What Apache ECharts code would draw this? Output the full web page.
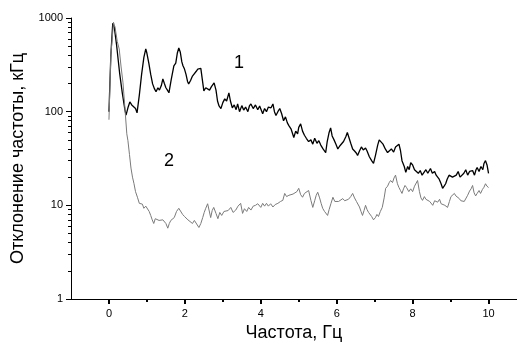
<!DOCTYPE html>
<html>
<head>
<meta charset="utf-8">
<script src="https://cdn.jsdelivr.net/npm/echarts@6/dist/echarts.min.js"></script>
<style>
  html, body {margin: 0; padding: 0; background: #fff;}
  #chart {width: 517px; height: 347px;}
</style>
</head>
<body>
<div id="chart"></div>
<script>
// curve 1 (black)
const blackX = [0.00, 0.05, 0.10, 0.14, 0.20, 0.28, 0.35, 0.42, 0.45, 0.50, 0.55, 0.60, 0.65, 0.70, 0.74, 0.80, 0.86, 0.92, 0.97, 1.00,
  1.05, 1.10, 1.15, 1.20, 1.24, 1.29, 1.33, 1.38, 1.42, 1.46, 1.50, 1.54, 1.58, 1.64, 1.71, 1.76, 1.80, 1.84, 1.88, 1.92,
  1.95, 1.99, 2.03, 2.07, 2.10, 2.15, 2.20, 2.24, 2.30, 2.34, 2.38, 2.42, 2.46, 2.50, 2.55, 2.60, 2.65, 2.70, 2.77, 2.82,
  2.86, 2.90, 2.95, 3.00, 3.05, 3.10, 3.16, 3.20, 3.25, 3.30, 3.35, 3.39, 3.44, 3.50, 3.55, 3.60, 3.66, 3.70, 3.74, 3.80,
  3.86, 3.92, 3.97, 4.05, 4.10, 4.15, 4.20, 4.27, 4.32, 4.36, 4.40, 4.45, 4.50, 4.55, 4.60, 4.65, 4.70, 4.74, 4.80, 4.87,
  4.92, 4.97, 5.00, 5.05, 5.10, 5.15, 5.20, 5.26, 5.32, 5.37, 5.42, 5.48, 5.53, 5.58, 5.64, 5.71, 5.75, 5.80, 5.84, 5.88,
  5.93, 5.98, 6.03, 6.08, 6.13, 6.18, 6.24, 6.28, 6.32, 6.37, 6.42, 6.47, 6.52, 6.55, 6.60, 6.65, 6.70, 6.76, 6.80, 6.86,
  6.92, 6.97, 7.02, 7.08, 7.12, 7.16, 7.22, 7.28, 7.34, 7.38, 7.44, 7.50, 7.55, 7.60, 7.64, 7.68, 7.72, 7.78, 7.82, 7.87,
  7.91, 7.95, 8.00, 8.05, 8.10, 8.15, 8.20, 8.25, 8.30, 8.35, 8.40, 8.47, 8.52, 8.58, 8.62, 8.66, 8.70, 8.75, 8.79, 8.83,
  8.87, 8.91, 8.96, 9.00, 9.05, 9.10, 9.15, 9.20, 9.25, 9.30, 9.35, 9.40, 9.45, 9.50, 9.55, 9.58, 9.63, 9.67, 9.70, 9.75,
  9.80, 9.85, 9.88, 9.92, 9.96, 10.00];
const blackY = [100, 400, 880, 800, 520, 260, 160, 105, 92, 110, 127, 118, 122, 108, 97, 150, 250, 380, 467, 420,
  330, 250, 198, 175, 163, 180, 170, 190, 224, 200, 180, 170, 159, 220, 309, 330, 420, 480, 430, 340,
  309, 285, 250, 210, 198, 215, 240, 230, 270, 285, 275, 290, 220, 167, 180, 176, 170, 185, 203, 170,
  130, 115, 108, 125, 137, 130, 159, 130, 110, 118, 105, 121, 100, 116, 104, 112, 100, 115, 121, 108,
  118, 105, 115, 95, 108, 100, 112, 110, 121, 100, 91, 100, 108, 95, 80, 88, 76, 71, 65, 53,
  62, 58, 68, 74, 62, 56, 52, 48, 50, 45, 52, 46, 49, 44, 40, 36.6, 48, 60, 67, 55,
  50, 45, 40, 43, 41, 48, 54, 60, 58, 46, 40, 38, 36, 34, 38, 42, 39, 41, 38, 33,
  30, 28, 34, 44, 50, 51.5, 45, 40, 36.6, 38, 40, 37, 42, 41, 45, 38.5, 30, 26, 22.5, 26,
  24, 28.6, 27, 24, 23, 22, 23.5, 21, 22, 24, 22, 24.7, 22, 23, 21, 21, 19, 17, 15.2, 16,
  17, 19, 21, 22, 20, 19.4, 21, 23, 20, 21, 22, 24, 21, 23, 22, 23.5, 21, 24, 25.4, 23,
  26, 24, 28, 30, 27, 22];

// curve 2 (gray)
const grayX = [0.00, 0.05, 0.12, 0.16, 0.22, 0.27, 0.32, 0.37, 0.42, 0.47, 0.50, 0.54, 0.58, 0.62, 0.66, 0.70, 0.75, 0.80, 0.84, 0.88,
  0.92, 0.97, 1.02, 1.06, 1.10, 1.14, 1.18, 1.22, 1.27, 1.32, 1.37, 1.42, 1.46, 1.50, 1.55, 1.59, 1.63, 1.68, 1.72, 1.78,
  1.84, 1.89, 1.94, 1.99, 2.03, 2.08, 2.13, 2.20, 2.25, 2.30, 2.37, 2.42, 2.47, 2.51, 2.55, 2.60, 2.63, 2.68, 2.72, 2.76,
  2.82, 2.87, 2.92, 2.97, 3.03, 3.08, 3.14, 3.21, 3.27, 3.34, 3.40, 3.47, 3.52, 3.57, 3.63, 3.68, 3.74, 3.80, 3.86, 3.92,
  3.95, 4.00, 4.05, 4.10, 4.15, 4.20, 4.26, 4.32, 4.38, 4.45, 4.52, 4.58, 4.63, 4.68, 4.74, 4.79, 4.85, 4.90, 4.95, 5.00,
  5.05, 5.10, 5.15, 5.20, 5.26, 5.32, 5.37, 5.42, 5.46, 5.50, 5.55, 5.59, 5.63, 5.68, 5.72, 5.76, 5.80, 5.85, 5.90, 5.95,
  6.00, 6.05, 6.10, 6.16, 6.21, 6.26, 6.31, 6.37, 6.42, 6.47, 6.52, 6.56, 6.60, 6.64, 6.68, 6.72, 6.76, 6.80, 6.84, 6.88,
  6.92, 6.97, 7.02, 7.06, 7.10, 7.15, 7.20, 7.25, 7.29, 7.34, 7.38, 7.42, 7.47, 7.51, 7.55, 7.60, 7.64, 7.68, 7.72, 7.76,
  7.80, 7.84, 7.90, 7.95, 8.00, 8.05, 8.09, 8.13, 8.18, 8.22, 8.26, 8.31, 8.35, 8.40, 8.45, 8.49, 8.53, 8.58, 8.62, 8.66,
  8.71, 8.75, 8.80, 8.85, 8.89, 8.92, 8.97, 9.01, 9.05, 9.10, 9.14, 9.18, 9.23, 9.27, 9.32, 9.36, 9.41, 9.45, 9.50, 9.54,
  9.58, 9.62, 9.66, 9.70, 9.75, 9.79, 9.84, 9.88, 9.92, 9.96, 10.00];
const grayY = [82, 400, 900, 800, 560, 467, 300, 203, 110, 58, 49, 35, 25, 20, 17, 14, 12.2, 10.5, 10, 10.3,
  9.3, 9.8, 10, 8.6, 7.8, 7.0, 6.4, 7.2, 7.4, 6.9, 7.2, 7.0, 6.9, 6.4, 5.7, 6.4, 6.9, 7.0, 7.4, 8.6,
  9.3, 8.9, 8.0, 7.6, 7.4, 7.0, 7.2, 6.4, 6.9, 6.6, 5.8, 6.4, 7.4, 8.4, 9.3, 10.4, 10.8, 7.4, 8.8, 9.5,
  8.2, 7.2, 8.4, 7.8, 8.6, 8.2, 8.8, 9.5, 8.4, 8.9, 9.8, 10.5, 8.2, 9.2, 8.6, 9.5, 8.9, 9.8, 10, 10.4,
  10.8, 9.5, 10.5, 9.8, 10.5, 9.8, 10.4, 9.6, 10.2, 10.5, 11.0, 11.3, 13.4, 12.4, 12.8, 12.2, 13.2, 12.8, 14.0, 15.2,
  13.0, 12.2, 13.4, 14.0, 14.4, 11.3, 9.5, 11.2, 12.8, 13.8, 12.0, 10.5, 9.3, 8.6, 8.2, 7.8, 9.0, 10.5, 12.2, 11.0,
  10.5, 11.0, 10.6, 11.8, 11.2, 10.8, 11.6, 12.4, 13.4, 12.0, 11.0, 11.2, 9.6, 8.6, 7.8, 8.8, 10, 9.0, 8.4, 8.0,
  7.6, 7.0, 7.4, 8.0, 7.6, 8.6, 9.5, 12.0, 15.2, 16.0, 17.4, 18.4, 17.5, 19.6, 21, 17, 15.5, 14.4, 13.4, 15.0,
  16.3, 15.5, 14.0, 15.0, 14.0, 16.0, 16.8, 18.4, 14, 12.0, 11.3, 12.4, 11.6, 12.0, 11.0, 10.6, 10, 11.2, 11.6, 10.8,
  11.6, 10.4, 10.8, 10.0, 9.8, 9.5, 11.0, 12.4, 12.8, 13.4, 12.6, 13.2, 11.8, 11.2, 11.6, 11.0, 11.4, 12.8, 14.2, 15.0,
  16.3, 13.6, 12.6, 13.4, 14.4, 13.4, 14.8, 15.6, 17, 16.0, 15.5];

// axis ticks
const xMajorTicks = [0, 2, 4, 6, 8, 10];
const xMinorTicks = [1, 3, 5, 7, 9];
const yMajorTicks = [1, 10, 100, 1000];
const yMinorTicks = [2, 3, 4, 5, 6, 7, 8, 9, 20, 30, 40, 50, 60, 70, 80, 90, 200, 300, 400, 500, 600, 700, 800, 900];

const curveLabels = ['1', '2'];
const xTitle = 'Частота, Гц';
const yTitle = 'Отклонение частоты, кГц';

const font = '"Liberation Sans", Arial, sans-serif';
const zip = (xs, ys) => xs.map((x, i) => [x, ys[i]]);

const chart = echarts.init(document.getElementById('chart'));

const xBase = {
  type: 'value', min: -1, max: 10.75,
  splitLine: {show: false},
  axisLine: {onZero: false, lineStyle: {color: '#000', width: 1}},
};
const yBase = {
  type: 'log', logBase: 10, min: 1, max: 1000,
  splitLine: {show: false},
  axisLine: {onZero: false, lineStyle: {color: '#000', width: 1}},
};

chart.setOption({
  animation: false,
  grid: {left: 71, right: 0, top: 18, bottom: 48, containLabel: false},
  xAxis: [{
    ...xBase,
    name: xTitle,
    nameLocation: 'middle',
    nameGap: 24,
    nameTextStyle: {fontFamily: font, fontSize: 18, color: '#000'},
    // 1px ticks vanish on this axis, 2px ones show
    axisTick: {show: true, length: 5, lineStyle: {color: '#000', width: 2}, customValues: xMajorTicks},
    axisLabel: {customValues: xMajorTicks, fontFamily: font, fontSize: 11, color: '#000', margin: 9},
  }, {
    ...xBase,
    position: 'bottom',
    axisLine: {show: false, onZero: false},
    axisTick: {show: true, length: 3, lineStyle: {color: '#000', width: 2}, customValues: xMinorTicks},
    axisLabel: {show: false},
  }],
  yAxis: [{
    ...yBase,
    name: yTitle,
    nameLocation: 'middle',
    nameGap: 44,
    nameTextStyle: {fontFamily: font, fontSize: 18, color: '#000'},
    axisTick: {show: true, length: 5, lineStyle: {color: '#000'}, customValues: yMajorTicks},
    axisLabel: {
      customValues: yMajorTicks, fontFamily: font, fontSize: 11, color: '#000', margin: 8,
      formatter: (v) => String(Math.round(v)),
    },
  }, {
    ...yBase,
    position: 'left',
    axisLine: {show: false, onZero: false},
    axisTick: {show: true, length: 3, lineStyle: {color: '#000'}, customValues: yMinorTicks},
    axisLabel: {show: false},
  }],
  series: [{
    name: curveLabels[0],
    type: 'line',
    data: zip(blackX, blackY),
    showSymbol: false,
    symbol: 'none',
    lineStyle: {color: '#000', width: 1.3},
    z: 2,
  }, {
    name: curveLabels[1],
    type: 'line',
    data: zip(grayX, grayY),
    showSymbol: false,
    symbol: 'none',
    lineStyle: {color: '#7a7a7a', width: 1},
    z: 3,
  }],
  graphic: [{
    type: 'text', left: 234, top: 54,
    style: {text: curveLabels[0], font: '18px ' + font, fill: '#000'},
  }, {
    type: 'text', left: 164, top: 152,
    style: {text: curveLabels[1], font: '18px ' + font, fill: '#000'},
  }],
});
</script>
</body>
</html>
